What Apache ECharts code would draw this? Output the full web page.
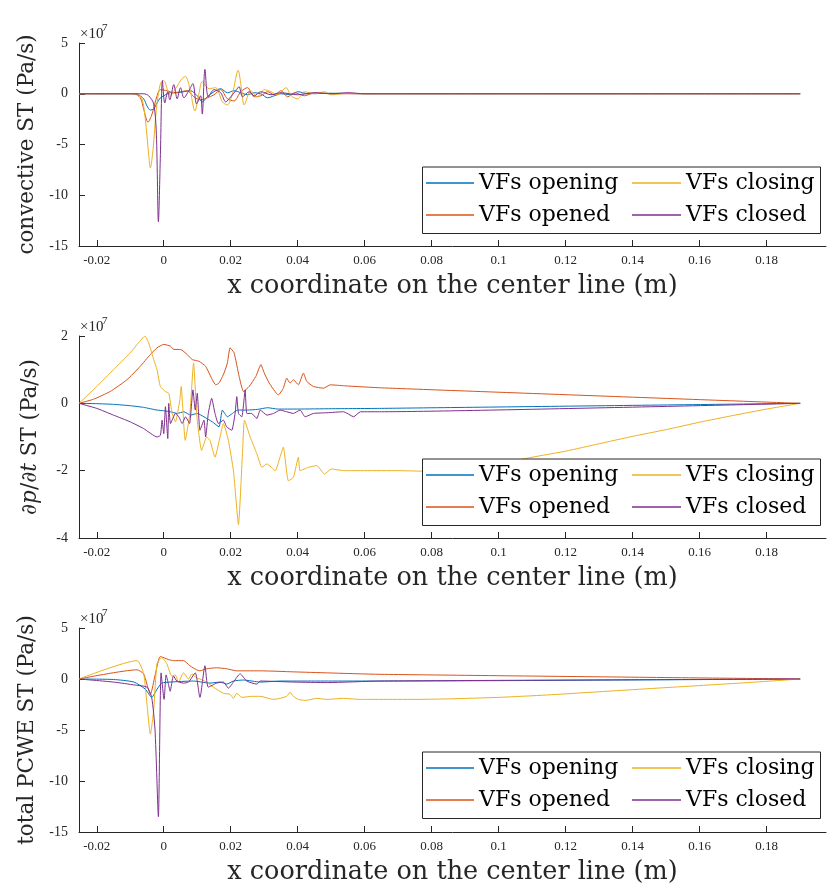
<!DOCTYPE html>
<html>
<head>
<meta charset="utf-8">
<script src="https://cdn.jsdelivr.net/npm/echarts@6/dist/echarts.min.js"></script>
<style>
html,body{margin:0;padding:0;background:#fff;}
#chart{width:829px;height:891px;}
</style>
</head>
<body>
<div id="chart"></div>
<script>
// ---------- DATA (x in m, y in units of 1e7 Pa/s) ----------
const xTicks = [-0.02, 0, 0.02, 0.04, 0.06, 0.08, 0.1, 0.12, 0.14, 0.16, 0.18];
const seriesNames = ['VFs opening', 'VFs opened', 'VFs closing', 'VFs closed'];

// convective ST
const convOpening = [[-0.0253,0],[-0.01,0],[-0.008,-0.05],[-0.006,-0.5],[-0.005,-1.2],[-0.004,-1.6],[-0.003,-1.5],[-0.002,-0.9],[-0.001,-0.4],[0.0,-0.2],[0.002,0.1],[0.004,0.1],[0.006,0.2],[0.008,0.3],[0.010,-0.2],[0.0115,-0.8],[0.013,-0.3],[0.015,0.2],[0.017,0.5],[0.019,0.1],[0.021,0.3],[0.023,0.1],[0.025,-0.1],[0.027,0.1],[0.029,0.0],[0.031,-0.4],[0.033,-0.2],[0.035,0.0],[0.038,-0.1],[0.040,0.2],[0.043,0.0],[0.05,0.05],[0.06,0],[0.19,0]];
const convOpened = [[-0.0253,0],[-0.009,0],[-0.007,-0.4],[-0.006,-1.5],[-0.0047,-2.8],[-0.0035,-2.0],[-0.002,-0.2],[-0.001,0.4],[0.001,0.3],[0.003,0.1],[0.005,0.2],[0.007,0.3],[0.009,-0.3],[0.011,-0.6],[0.013,-0.4],[0.015,-0.1],[0.017,0.4],[0.019,-0.5],[0.021,-0.7],[0.023,0.2],[0.025,0.6],[0.027,-0.3],[0.029,-0.2],[0.031,0.2],[0.033,-0.1],[0.035,0.3],[0.037,-0.3],[0.039,0.1],[0.042,-0.2],[0.045,0.1],[0.05,0],[0.19,0]];
const convClosing = [[-0.0253,0],[-0.008,0],[-0.0065,-0.5],[-0.0055,-2.5],[-0.0045,-6.0],[-0.004,-7.3],[-0.0032,-5.5],[-0.0022,-1.5],[-0.001,1.0],[0.0,1.3],[0.0012,0.3],[0.002,-0.2],[0.0035,0.5],[0.0055,1.5],[0.0065,1.7],[0.0078,0.5],[0.0093,-1.7],[0.0105,0.0],[0.0115,1.2],[0.0135,0.5],[0.0155,0.6],[0.0175,-0.8],[0.019,-1.1],[0.0205,0.0],[0.0222,2.3],[0.0232,0.5],[0.024,-1.1],[0.026,0.3],[0.028,-0.3],[0.030,0.4],[0.032,0.2],[0.034,-0.1],[0.0365,0.6],[0.038,-0.2],[0.040,-0.5],[0.042,0.2],[0.045,0.0],[0.048,0.2],[0.05,-0.1],[0.055,0.05],[0.06,0],[0.19,0]];
const convClosed = [[-0.0253,0],[-0.006,0],[-0.0045,-0.2],[-0.003,-1.0],[-0.0022,-4.0],[-0.0016,-12.6],[-0.001,-6.0],[-0.0004,1.3],[0.0003,-0.9],[0.0012,0.2],[0.0018,-0.6],[0.003,0.9],[0.004,-0.5],[0.005,0.6],[0.006,-0.4],[0.0075,0.3],[0.0087,1.0],[0.0098,-1.0],[0.011,-0.2],[0.0115,-2.0],[0.0123,2.4],[0.0133,-0.3],[0.015,0.4],[0.017,0.1],[0.0185,-0.8],[0.020,-0.3],[0.0215,0.3],[0.0225,0.7],[0.0235,-0.3],[0.0255,0.2],[0.027,-0.2],[0.029,0.2],[0.032,-0.1],[0.035,0.1],[0.04,-0.1],[0.045,0.1],[0.05,0],[0.055,0.1],[0.06,0],[0.19,0]];

// dp/dt ST
const dpdtOpening = [[-0.0253,0],[-0.02,-0.01],[-0.015,-0.03],[-0.01,-0.07],[-0.006,-0.12],[-0.002,-0.2],[0.0,-0.22],[0.002,-0.25],[0.004,-0.3],[0.006,-0.25],[0.008,-0.35],[0.010,-0.3],[0.012,-0.4],[0.0145,-0.55],[0.0165,-0.7],[0.0175,-0.2],[0.019,-0.4],[0.0205,-0.3],[0.022,-0.2],[0.025,-0.2],[0.028,-0.18],[0.031,-0.13],[0.034,-0.17],[0.04,-0.17],[0.05,-0.16],[0.065,-0.15],[0.19,0]];
const dpdtOpened = [[-0.0253,0],[-0.021,0.12],[-0.016,0.35],[-0.011,0.7],[-0.007,1.1],[-0.004,1.45],[-0.002,1.65],[0.0,1.75],[0.002,1.7],[0.003,1.6],[0.005,1.6],[0.007,1.45],[0.0085,1.3],[0.0105,1.25],[0.0125,1.1],[0.0145,0.7],[0.0155,0.55],[0.0165,0.6],[0.018,0.9],[0.019,1.2],[0.0198,1.65],[0.021,1.5],[0.0225,0.8],[0.0238,0.35],[0.0255,0.5],[0.0275,0.8],[0.029,1.15],[0.030,0.9],[0.0315,0.6],[0.0342,0.25],[0.0357,0.45],[0.0367,0.75],[0.0377,0.6],[0.0387,0.7],[0.0402,0.55],[0.0417,0.9],[0.0427,0.65],[0.0447,0.5],[0.0477,0.45],[0.0497,0.55],[0.054,0.52],[0.065,0.46],[0.19,0]];
const dpdtClosing = [[-0.0253,0],[-0.02,0.5],[-0.015,1.0],[-0.01,1.5],[-0.0075,1.8],[-0.0056,2.0],[-0.0045,1.8],[-0.003,1.3],[-0.002,1.0],[-0.001,0.5],[0.0005,0.35],[0.0015,0.3],[0.0025,-0.3],[0.0035,-0.55],[0.0048,0.1],[0.0052,0.5],[0.0064,-1.1],[0.0078,-0.3],[0.0089,1.2],[0.0099,-0.4],[0.0113,-1.4],[0.0128,-1.0],[0.0138,-1.1],[0.0153,-1.6],[0.0168,-1.0],[0.0178,-0.6],[0.0193,-1.1],[0.0208,-2.0],[0.0223,-3.6],[0.0235,-1.5],[0.0241,-0.5],[0.0258,-1.0],[0.0278,-1.5],[0.0293,-1.9],[0.0308,-1.8],[0.0333,-2.0],[0.0347,-1.6],[0.0357,-1.3],[0.0372,-2.3],[0.0387,-2.2],[0.0402,-1.6],[0.0407,-2.0],[0.0432,-1.9],[0.0457,-1.85],[0.048,-2.1],[0.050,-1.95],[0.054,-2.0],[0.06,-2.0],[0.07,-2.0],[0.08,-2.02],[0.09,-1.95],[0.1,-1.8],[0.11,-1.6],[0.12,-1.42],[0.13,-1.2],[0.14,-0.98],[0.15,-0.78],[0.16,-0.56],[0.17,-0.36],[0.18,-0.17],[0.19,0]];
const dpdtClosed = [[-0.0253,0],[-0.02,-0.15],[-0.015,-0.35],[-0.01,-0.55],[-0.006,-0.75],[-0.002,-1.0],[-0.001,-0.95],[-0.0005,-0.5],[0.0,-0.9],[0.0005,-0.1],[0.0012,-1.05],[0.0015,0.0],[0.002,-0.6],[0.0035,-0.3],[0.0045,-0.4],[0.0055,-0.6],[0.0065,-0.4],[0.0077,-0.6],[0.0087,0.4],[0.0094,-0.2],[0.0100,0.3],[0.0108,-0.8],[0.012,-0.5],[0.0125,-1.0],[0.0133,-0.3],[0.0143,0.15],[0.0153,-0.3],[0.0163,-0.6],[0.0178,-0.5],[0.0188,-0.7],[0.0203,-0.8],[0.0213,-0.3],[0.0218,0.2],[0.0223,-0.3],[0.0233,-0.4],[0.0243,0.4],[0.0248,-0.3],[0.0262,-0.3],[0.0278,-0.45],[0.0288,-0.2],[0.0308,-0.35],[0.0328,-0.3],[0.0347,-0.2],[0.0367,-0.25],[0.0387,-0.3],[0.0407,-0.2],[0.0422,-0.4],[0.0447,-0.3],[0.0487,-0.28],[0.0537,-0.25],[0.0567,-0.4],[0.0587,-0.25],[0.065,-0.25],[0.19,0]];

// total PCWE ST
const totOpening = [[-0.0253,0],[-0.015,-0.05],[-0.0089,-0.3],[-0.0055,-1.0],[-0.0036,-1.8],[-0.002,-1.0],[-0.0006,-0.4],[0.0019,-0.3],[0.0088,-0.2],[0.0138,-0.4],[0.0168,-0.3],[0.0188,-0.5],[0.0208,-0.2],[0.0238,-0.1],[0.0288,-0.3],[0.035,-0.2],[0.045,-0.2],[0.0646,-0.2],[0.19,0]];
const totOpened = [[-0.0253,0],[-0.008,0.9],[-0.006,0.5],[-0.004,-1.5],[-0.0025,0.5],[-0.001,2.2],[0.0015,1.9],[0.0029,1.8],[0.0059,1.8],[0.0078,1.3],[0.0098,0.9],[0.0108,0.8],[0.0128,1.0],[0.0158,1.1],[0.0188,1.0],[0.0218,0.8],[0.0248,0.8],[0.0288,0.8],[0.0388,0.7],[0.0488,0.6],[0.0646,0.46],[0.19,0]];
const totClosing = [[-0.0253,0],[-0.008,1.8],[-0.006,0.5],[-0.005,-2.5],[-0.004,-5.4],[-0.003,-3.0],[-0.002,1.5],[-0.0006,2.1],[0.0009,1.5],[0.0024,0.3],[0.0034,0.4],[0.0044,-0.3],[0.0059,0.6],[0.0074,0.0],[0.0084,0.5],[0.0098,0.1],[0.0108,0.0],[0.0128,-0.3],[0.0148,-0.8],[0.0178,-1.4],[0.0198,-1.5],[0.0208,-1.9],[0.0218,-1.4],[0.0233,-1.8],[0.0263,-1.7],[0.0288,-1.7],[0.0328,-2.0],[0.0367,-1.7],[0.0377,-1.3],[0.0387,-1.7],[0.0402,-2.0],[0.0422,-2.1],[0.0457,-1.9],[0.0487,-2.0],[0.0537,-1.9],[0.0587,-2.0],[0.0646,-2.0],[0.075,-2.0],[0.085,-1.95],[0.1,-1.8],[0.1143,-1.57],[0.13,-1.25],[0.1541,-0.76],[0.174,-0.36],[0.19,0]];
const totClosed = [[-0.0253,0],[-0.015,-0.3],[-0.0085,-0.6],[-0.005,-0.8],[-0.0036,-1.8],[-0.0026,-5.0],[-0.0016,-13.5],[-0.0008,0.6],[0.0001,-2.0],[0.0007,0.4],[0.0014,-0.5],[0.0019,-1.2],[0.0029,0.3],[0.0039,-0.2],[0.0059,-0.4],[0.0074,-0.3],[0.0094,0.6],[0.0108,-1.8],[0.0123,1.3],[0.0133,-0.8],[0.0158,-0.4],[0.0178,-0.3],[0.0193,-0.9],[0.0208,-0.3],[0.0228,0.5],[0.0248,-0.2],[0.0278,-0.5],[0.0288,-0.2],[0.0388,-0.3],[0.0488,-0.35],[0.0646,-0.2],[0.19,0]];

// ---------- STYLE ----------
const FONT = '"DejaVu Serif", "Liberation Serif", serif';
const TFONT = '"Liberation Serif", "DejaVu Serif", serif';
const AX = '#262626';
const COLORS = ['#0072BD', '#D95319', '#EDB120', '#7E2F8E'];

const panels = [
  { top: 43, height: 203, min: -15, max: 5, interval: 5, smooth: 0.3, name: 'convective ST (Pa/s)', data: [convOpening, convOpened, convClosing, convClosed], legTop: 171, box: [422.5, 167, 396, 66.5] },
  { top: 336, height: 202, min: -4, max: 2, interval: 2, smooth: 0.15, name: '∂{i|p}/∂{i|t} ST (Pa/s)', data: [dpdtOpening, dpdtOpened, dpdtClosing, dpdtClosed], legTop: 463, box: [422.5, 459, 396, 66.5] },
  { top: 628, height: 204, min: -15, max: 5, interval: 5, smooth: 0.2, name: 'total PCWE ST (Pa/s)', data: [totOpening, totOpened, totClosing, totClosed], legTop: 756, box: [422.5, 752, 396, 66.5] }
];

const grids = [], xAxes = [], yAxes = [], series = [], legends = [], graphics = [];
panels.forEach((p, i) => {
  grids.push({ left: 79, right: 3, top: p.top, height: p.height });
  xAxes.push({
    type: 'value', gridIndex: i, min: -0.0253, max: 0.1977,
    name: 'x coordinate on the center line (m)', nameLocation: 'middle', nameGap: 27,
    nameTextStyle: { fontFamily: FONT, fontSize: 25.5, color: AX },
    axisLine: { onZero: false, lineStyle: { color: AX, width: 1 } },
    axisTick: { show: true, inside: true, length: 6, customValues: xTicks, lineStyle: { color: AX } },
    axisLabel: { customValues: xTicks, margin: 8, fontFamily: TFONT, fontSize: 13, color: AX,
      formatter: v => String(+(+v).toFixed(2)) },
    splitLine: { show: false }
  });
  yAxes.push({
    type: 'value', gridIndex: i, min: p.min, max: p.max, interval: p.interval,
    name: p.name, nameLocation: 'middle', nameGap: 38, nameRotate: 90,
    nameTextStyle: { fontFamily: FONT, fontSize: 21.5, color: AX, rich: { i: { fontFamily: FONT, fontSize: 21.5, fontStyle: 'italic', color: AX } } },
    axisLine: { show: true, onZero: false, lineStyle: { color: AX, width: 1 } },
    axisTick: { show: true, inside: true, length: 6, lineStyle: { color: AX } },
    axisLabel: { margin: 11, fontFamily: TFONT, fontSize: 14, color: AX },
    splitLine: { show: false }
  });
  p.data.forEach((d, k) => {
    series.push({
      type: 'line', name: seriesNames[k], xAxisIndex: i, yAxisIndex: i, data: d,
      symbol: 'none', showSymbol: false, smooth: p.smooth,
      lineStyle: { width: 1, color: COLORS[k] }, itemStyle: { color: COLORS[k] },
      clip: true, animation: false, z: 2 + k
    });
  });
  const legCommon = {
    orient: 'vertical', icon: 'rect', itemWidth: 48, itemHeight: 1.5, itemGap: 8, padding: 0,
    textStyle: { fontFamily: FONT, fontSize: 22, color: '#000', lineHeight: 24 },
    top: p.legTop, z: 20, selectedMode: false
  };
  legends.push(Object.assign({}, legCommon, { left: 426, data: ['VFs opening', 'VFs opened'] }));
  legends.push(Object.assign({}, legCommon, { left: 632, itemWidth: 49, data: ['VFs closing', 'VFs closed'] }));
  graphics.push({
    type: 'rect', z: 10, shape: { x: p.box[0], y: p.box[1], width: p.box[2] + 2, height: p.box[3] },
    style: { fill: '#fff', stroke: AX, lineWidth: 1 }
  });
  graphics.push({ type: 'text', z: 10, x: 80, y: p.top - 16, style: { text: '×10', font: '15px ' + TFONT, fill: AX } });
  graphics.push({ type: 'text', z: 10, x: 102, y: p.top - 20, style: { text: '7', font: '11px ' + TFONT, fill: AX } });
});

const chart = echarts.init(document.getElementById('chart'), null, { renderer: 'canvas' });
chart.setOption({
  animation: false,
  backgroundColor: '#fff',
  grid: grids, xAxis: xAxes, yAxis: yAxes, series: series, legend: legends, graphic: graphics
});
</script>
</body>
</html>
